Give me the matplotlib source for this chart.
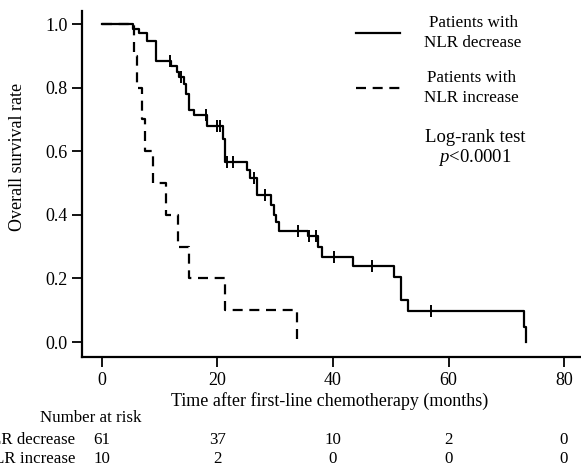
import numpy as np
import matplotlib
matplotlib.use("Agg")
import matplotlib.pyplot as plt
from matplotlib.transforms import blended_transform_factory

plt.rcParams['font.family'] = ['Liberation Serif', 'DejaVu Serif']
plt.rcParams['mathtext.fontset'] = 'custom'
plt.rcParams['mathtext.rm'] = 'Liberation Serif'
plt.rcParams['mathtext.it'] = 'Liberation Serif:italic'

# ---- data ----
dec_times = [0, 5.4, 6.45, 7.85, 9.3, 12.0, 13.0, 13.3, 14.2, 14.6, 15.1, 16.0, 18.2,
             20.9, 21.3, 25.1, 25.7, 26.8, 29.3, 29.7, 30.1, 30.6, 35.7, 37.4, 38.1,
             43.5, 50.6, 51.8, 53.0, 73.1, 73.5]
dec_surv = [1.0, 0.983, 0.971, 0.947, 0.885, 0.869, 0.85, 0.832, 0.81, 0.78, 0.73, 0.714, 0.68,
            0.64, 0.565, 0.541, 0.515, 0.462, 0.43, 0.40, 0.378, 0.349, 0.333, 0.298, 0.268,
            0.24, 0.203, 0.132, 0.0975, 0.048, 0.0]
dec_censor = [11.7, 13.6, 18.0, 20.0, 20.4, 21.6, 22.6, 26.4, 28.3, 34.0, 35.9, 37.0,
              40.2, 46.8, 56.9]

inc_times = [0, 5.5, 6.0, 6.9, 7.4, 8.9, 11.1, 13.1, 15.1, 21.3, 33.8]
inc_surv = [1.0, 0.9, 0.8, 0.7, 0.6, 0.5, 0.4, 0.3, 0.2, 0.1, 0.0]

x_ticks = [0, 20, 40, 60, 80]
y_ticks = [0.0, 0.2, 0.4, 0.6, 0.8, 1.0]
risk_dec = [61, 37, 10, 2, 0]
risk_inc = [10, 2, 0, 0, 0]
group_labels = ["NLR decrease", "NLR increase"]
legend_labels = ["Patients with\nNLR decrease", "Patients with\nNLR increase"]

W, H = 581, 470
fig = plt.figure(figsize=(W / 100, H / 100), dpi=100)
ax_left, ax_top, ax_bottom = 82, 11, 357
ax = fig.add_axes([ax_left / W, 1 - ax_bottom / H, 1 - ax_left / W, (ax_bottom - ax_top) / H])

FS = 13
lw = 1.6
l1, = ax.step(dec_times, dec_surv, where='post', color='black', lw=lw)
l2, = ax.step(inc_times, inc_surv, where='post', color='black', lw=lw, dashes=(4.5, 3))

# censor marks
dt = np.array(dec_times)
ds = np.array(dec_surv)
cs = ds[np.searchsorted(dt, np.array(dec_censor), side='right') - 1]
ax.plot(dec_censor, cs, ls='none', marker='|', ms=9, mew=1.4, color='black')

ax.set_xlim(-3.46, 82.94)
ax.set_ylim(-0.047, 1.041)
ax.set_xticks(x_ticks)
ax.set_yticks(y_ticks)
ax.set_xticklabels([str(v) for v in x_ticks], fontsize=FS)
ax.set_yticklabels([f"{v:.1f}" for v in y_ticks], fontsize=FS)
ax.tick_params(axis='both', direction='out', length=7, width=1.3, pad=3.5)
for s in ['top', 'right']:
    ax.spines[s].set_visible(False)
for s in ['left', 'bottom']:
    ax.spines[s].set_linewidth(1.6)

# axis labels
fig.text(18 / W, 1 - 157 / H, "Overall survival rate", rotation=90, ha='center', va='center', fontsize=FS)
fig.text(330 / W, 1 - 401 / H, "Time after first-line chemotherapy (months)", ha='center', va='center', fontsize=FS)

# legend
leg = fig.legend([l1, l2], legend_labels, loc='upper left',
                 bbox_to_anchor=(356 / W, 1 - 15 / H), bbox_transform=fig.transFigure,
                 frameon=False, fontsize=12.3, handlelength=2.6, handletextpad=1.4,
                 labelspacing=1.1, borderpad=0, borderaxespad=0)
for t in leg.get_texts():
    t.set_multialignment('center')
    t.set_linespacing(1.35)

fig.text(475 / W, 1 - 137 / H, "Log-rank test", ha='center', va='center', fontsize=13.5)
fig.text(475 / W, 1 - 158 / H, "$p$<0.0001", ha='center', va='center', fontsize=13.5)

# number at risk table
tr = blended_transform_factory(ax.transData, fig.transFigure)
fig.text(91 / W, 1 - 418 / H, "Number at risk", ha='center', va='center', fontsize=12.2)
for row, (lab, vals) in enumerate(zip(group_labels, [risk_dec, risk_inc])):
    y = 1 - (440 + 19 * row) / H
    fig.text(75 / W, y, lab, ha='right', va='center', fontsize=12.2)
    for xv, n in zip(x_ticks, vals):
        ax.text(xv, y, str(n), transform=tr, ha='center', va='center', fontsize=12.2)

fig.savefig("out.png", dpi=100)
